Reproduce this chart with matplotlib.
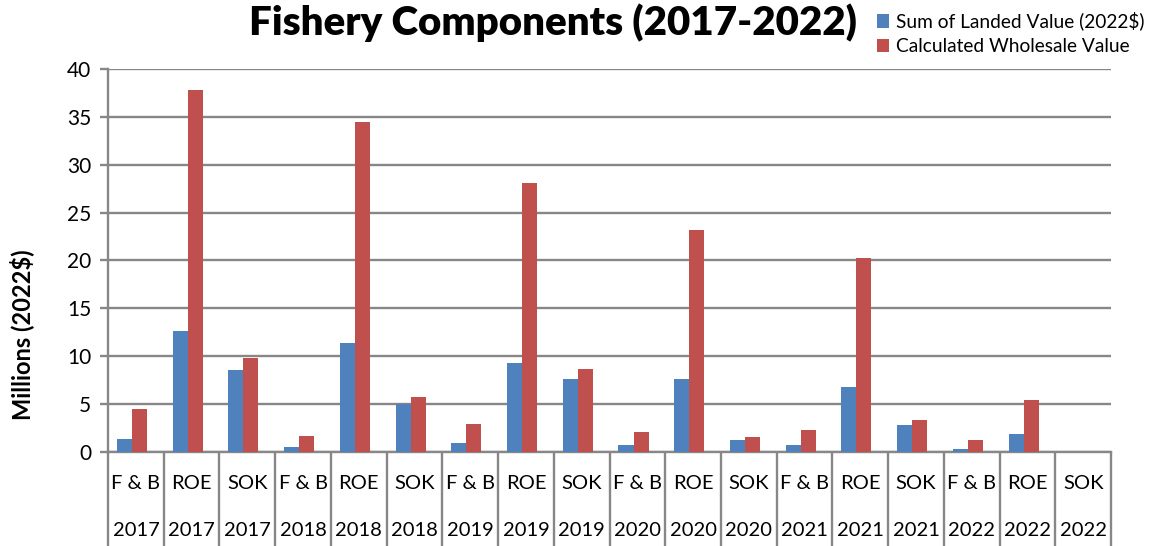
import numpy as np
import matplotlib
matplotlib.use("Agg")
import matplotlib.pyplot as plt
import matplotlib.transforms as mtransforms

plt.rcParams['font.family'] = ['Lato', 'DejaVu Sans']

# data (millions, 2022$)
components = ["F & B", "ROE", "SOK"] * 6
years = ["2017"] * 3 + ["2018"] * 3 + ["2019"] * 3 + ["2020"] * 3 + ["2021"] * 3 + ["2022"] * 3
landed_value = [1.4, 12.6, 8.6, 0.55, 11.4, 5.0, 0.95, 9.3, 7.6,
                0.7, 7.6, 1.3, 0.7, 6.75, 2.8, 0.3, 1.85, 0.0]
wholesale_value = [4.5, 37.8, 9.85, 1.65, 34.5, 5.75, 2.9, 28.1, 8.7,
                   2.05, 23.15, 1.55, 2.3, 20.3, 3.3, 1.2, 5.4, 0.0]

blue = "#4F81BD"
red = "#C0504D"
grid_col = "#878787"

fig = plt.figure(figsize=(11.54, 5.46), dpi=100)
ax = fig.add_axes([0.0936, 0.1722, 0.8692, 0.7015])

x = np.arange(len(components))
w = 0.27
ax.bar(x - w / 2 - 0.07, landed_value, w, color=blue, label="Sum of Landed Value (2022$)", zorder=3)
ax.bar(x + w / 2 - 0.07, wholesale_value, w, color=red, label="Calculated Wholesale Value", zorder=3)

ax.set_xlim(-0.5, len(components) - 0.5)
ax.set_ylim(0, 40)
ax.set_yticks(np.arange(0, 41, 5))
ax.yaxis.grid(True, color=grid_col, lw=1.7, zorder=0)
ax.tick_params(axis='y', length=6, width=1.7, color=grid_col, labelsize=15, pad=6)

# category table below the axis
ax.set_xticks([])
ax.set_xticks(np.arange(len(components) + 1) - 0.5, minor=True)
ax.tick_params(axis='x', which='minor', length=68, width=1.7, color=grid_col)
trans = mtransforms.blended_transform_factory(ax.transData, ax.transAxes)
for xi, comp, yr in zip(x, components, years):
    ax.text(xi, -0.082, comp, transform=trans, ha='center', va='center', fontsize=14.5)
    ax.text(xi, -0.204, yr, transform=trans, ha='center', va='center', fontsize=14.5)

for s in ['top', 'right']:
    ax.spines[s].set_visible(False)
ax.spines['left'].set_color(grid_col)
ax.spines['left'].set_linewidth(1.7)
ax.spines['bottom'].set_color(grid_col)
ax.spines['bottom'].set_linewidth(1.7)

ax.set_ylabel("Millions (2022$)", fontsize=17, fontweight='bold')
ax.yaxis.set_label_coords(-0.074, 0.305)

fig.text(0.479, 0.958, "Fishery Components (2017-2022)", ha='center', va='center',
         fontsize=29, fontweight='heavy')

fig.legend(loc='upper left', bbox_to_anchor=(0.745, 1.01), frameon=False, fontsize=13.8,
           handlelength=0.65, handleheight=0.7, handletextpad=0.35, labelspacing=0.4)

fig.savefig("out.png", dpi=100)
